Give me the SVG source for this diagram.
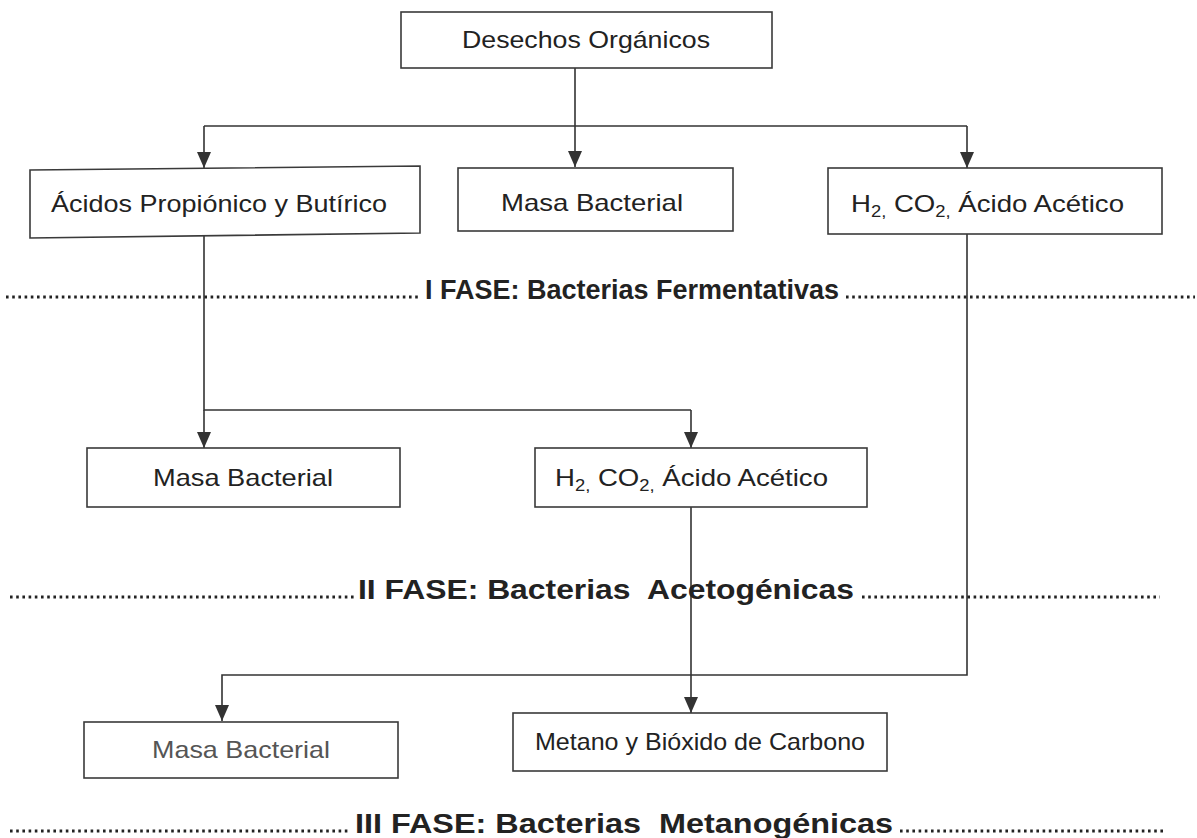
<svg xmlns="http://www.w3.org/2000/svg" width="1197" height="838" viewBox="0 0 1197 838">
  <style>
    .box { fill: #ffffff; stroke: #3a3a3a; stroke-width: 1.6; }
    .lbl { font-family: "Liberation Sans", Arial, sans-serif; font-size: 24px; fill: #222; }
    .faint { fill: #555; }
    .phase { font-family: "Liberation Sans", Arial, sans-serif; font-size: 27px; font-weight: bold; fill: #222; }
    .conn { fill: none; stroke: #333; stroke-width: 1.6; }
    .dots { fill: none; stroke: #222; stroke-width: 3; stroke-linecap: butt; stroke-dasharray: 2.6 3.6; }
    .sub { font-size: 16px; }
  </style>
  <defs>
    <!-- filled triangular arrowhead, drawn along +x so orient="auto" points it down the line -->
    <marker id="arrow" markerUnits="userSpaceOnUse" markerWidth="17" markerHeight="16" refX="16" refY="8" orient="auto" viewBox="0 0 17 16">
      <path d="M0,1 L16,8 L0,15 Z" fill="#333"/>
    </marker>
  </defs>

  <rect width="1197" height="838" fill="#ffffff"/>

  <!-- connectors -->
  <g id="connectors">
    <path class="conn" d="M575,68 V167" marker-end="url(#arrow)"/>
    <path class="conn" d="M204,126 H967"/>
    <path class="conn" d="M204,126 V168" marker-end="url(#arrow)"/>
    <path class="conn" d="M967,126 V168" marker-end="url(#arrow)"/>
    <path class="conn" d="M204,236 V410 H691"/>
    <path class="conn" d="M204,410 V448" marker-end="url(#arrow)"/>
    <path class="conn" d="M691,410 V448" marker-end="url(#arrow)"/>
    <path class="conn" d="M967,234 V675 H222 V721" marker-end="url(#arrow)"/>
    <path class="conn" d="M691,507 V713" marker-end="url(#arrow)"/>
  </g>

  <!-- phase separators -->
  <g id="phase-1">
    <line class="dots" x1="6" y1="297" x2="421" y2="297"/>
    <text class="phase" x="425" y="299" textLength="414" lengthAdjust="spacingAndGlyphs">I FASE: Bacterias Fermentativas</text>
    <line class="dots" x1="846" y1="297" x2="1195" y2="297"/>
  </g>
  <g id="phase-2">
    <line class="dots" x1="10" y1="597" x2="354" y2="597"/>
    <text class="phase" x="358" y="599" textLength="496" lengthAdjust="spacingAndGlyphs" xml:space="preserve">II FASE: Bacterias  Acetogénicas</text>
    <line class="dots" x1="862" y1="597" x2="1160" y2="597"/>
  </g>
  <g id="phase-3">
    <line class="dots" x1="10" y1="831" x2="351" y2="831"/>
    <text class="phase" x="355" y="833" textLength="538" lengthAdjust="spacingAndGlyphs" xml:space="preserve">III FASE: Bacterias  Metanogénicas</text>
    <line class="dots" x1="900" y1="831" x2="1165" y2="831"/>
  </g>

  <!-- nodes -->
  <g id="desechos">
    <rect class="box" x="401" y="12" width="371" height="56"/>
    <text class="lbl" x="462" y="48" textLength="248" lengthAdjust="spacingAndGlyphs">Desechos Orgánicos</text>
  </g>
  <g id="acidos">
    <path class="box" d="M30,170 L420,166 L420,233 L30,238 Z"/>
    <text class="lbl" x="51" y="212" textLength="336" lengthAdjust="spacingAndGlyphs">Ácidos Propiónico y Butírico</text>
  </g>
  <g id="masa-1">
    <rect class="box" x="458" y="168" width="275" height="63"/>
    <text class="lbl" x="592" y="211" text-anchor="middle" textLength="182" lengthAdjust="spacingAndGlyphs">Masa Bacterial</text>
  </g>
  <g id="gases-1">
    <rect class="box" x="828" y="168" width="334" height="66"/>
    <text class="lbl" x="851" y="212" textLength="273" lengthAdjust="spacingAndGlyphs">H<tspan class="sub" dy="5">2,</tspan><tspan dy="-5"> CO</tspan><tspan class="sub" dy="5">2,</tspan><tspan dy="-5"> Ácido Acético</tspan></text>
  </g>
  <g id="masa-2">
    <rect class="box" x="87" y="448" width="313" height="59"/>
    <text class="lbl" x="243" y="486" text-anchor="middle" textLength="180" lengthAdjust="spacingAndGlyphs">Masa Bacterial</text>
  </g>
  <g id="gases-2">
    <rect class="box" x="535" y="448" width="332" height="59"/>
    <text class="lbl" x="555" y="486" textLength="273" lengthAdjust="spacingAndGlyphs">H<tspan class="sub" dy="5">2,</tspan><tspan dy="-5"> CO</tspan><tspan class="sub" dy="5">2,</tspan><tspan dy="-5"> Ácido Acético</tspan></text>
  </g>
  <g id="masa-3">
    <rect class="box" x="84" y="722" width="314" height="56"/>
    <text class="lbl faint" x="241" y="758" text-anchor="middle" textLength="178" lengthAdjust="spacingAndGlyphs">Masa Bacterial</text>
  </g>
  <g id="metano">
    <rect class="box" x="513" y="713" width="374" height="58"/>
    <text class="lbl" x="535" y="750" textLength="330" lengthAdjust="spacingAndGlyphs">Metano y Bióxido de Carbono</text>
  </g>
</svg>
